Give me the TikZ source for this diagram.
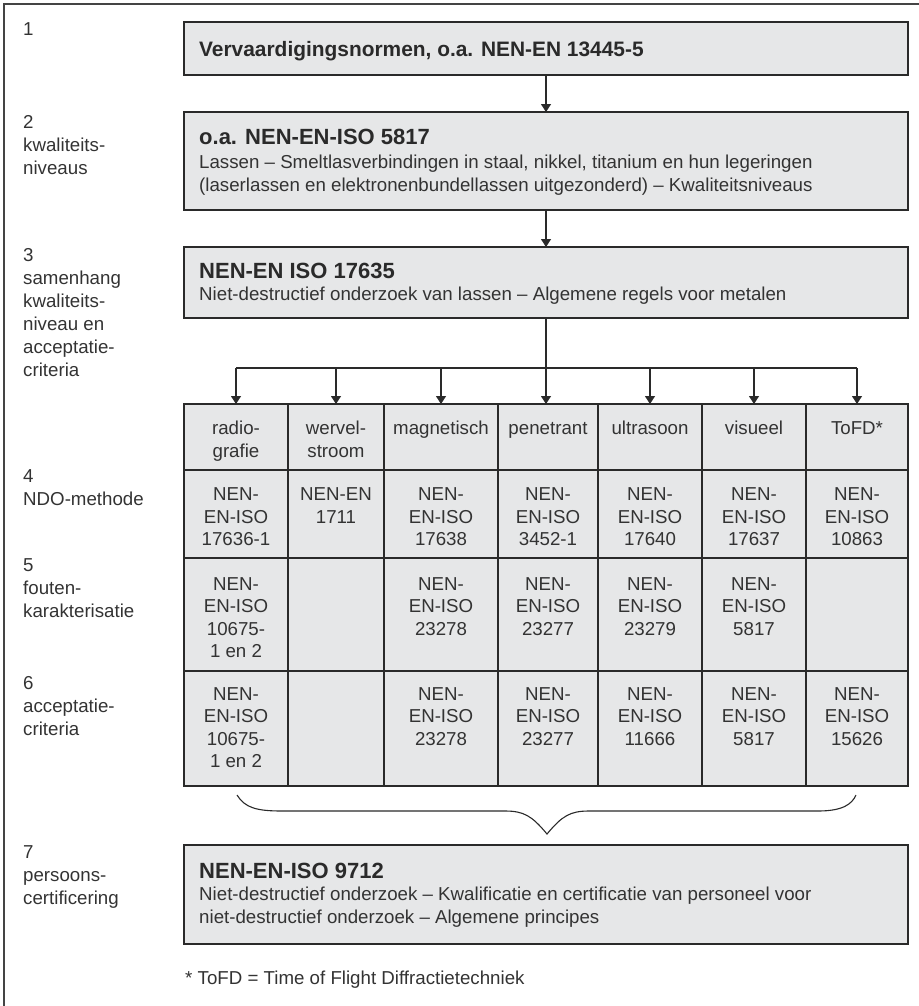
\documentclass[tikz,border=0pt]{standalone}
\usepackage{fontspec}
\setmainfont{Liberation Sans}
\usetikzlibrary{arrows.meta}
\definecolor{boxfill}{HTML}{E6E7E8}
\definecolor{ink}{HTML}{2A2A2A}
\definecolor{txt}{HTML}{333333}
\definecolor{framec}{HTML}{444444}
\newcommand{\bodyfont}{\fontsize{18.7bp}{22.5bp}\selectfont}
\newcommand{\labfont}{\fontsize{18.7bp}{23bp}\selectfont}
\newcommand{\titlefont}{\fontsize{22bp}{25bp}\selectfont\bfseries}
\newcommand{\titlefontA}{\fontsize{20.9bp}{25bp}\selectfont\bfseries}
\begin{document}
\begin{tikzpicture}[x=1bp,y=-1bp,
  box/.style={draw=ink, fill=boxfill, line width=1.5bp, inner sep=0pt, outer sep=0pt, minimum width=724bp},
  cell/.style={draw=ink, fill=boxfill, line width=1.3bp, inner sep=0pt, outer sep=0pt},
  title/.style={anchor=base west, inner sep=0pt, font=\titlefont, text=ink},
  body/.style={anchor=north west, align=left, inner sep=0pt, font=\bodyfont, text=txt},
  lab/.style={anchor=north west, align=left, inner sep=0pt, font=\labfont, text=txt},
  celltxt/.style={anchor=north, align=center, inner sep=0pt, font=\bodyfont, text=txt},
  conn/.style={draw=ink, line width=1.2bp, -{Triangle[length=8bp,width=10bp]}},
  line/.style={draw=ink, line width=1.2bp},
  frameline/.style={draw=framec, line width=1.5bp}
]
\useasboundingbox (0,0) rectangle (919,1006);

% frame (top and left only)
\draw[frameline] (4,1006) -- (4,4) -- (919,4);

% left labels
\node[lab] (l1) at (23,{35.7-16.1}) {\strut 1};
\node[lab] (l2) at (23,{128.3-16.1}) {\strut 2\\kwaliteits-\\niveaus};
\node[lab] (l3) at (23,{261.7-16.1}) {\strut 3\\samenhang\\kwaliteits-\\niveau en\\acceptatie-\\criteria};
\node[lab] (l4) at (23,{482.7-16.1}) {\strut 4\\NDO-methode};
\node[lab] (l5) at (23,{571.7-16.1}) {\strut 5\\fouten-\\karakterisatie};
\node[lab] (l6) at (23,{689.3-16.1}) {\strut 6\\acceptatie-\\criteria};
\node[lab] (l7) at (23,{858.3-16.1}) {\strut 7\\persoons-\\certificering};

% main boxes
\node[box, minimum height=53bp] (b1) at (546,48.5) {};
\node[title, font=\titlefontA] (t1) at (199,56) {Vervaardigingsnormen, o.a. NEN-EN 13445-5};

\node[box, minimum height=98bp] (b2) at (546,161) {};
\node[title] (t2) at (199,144) {o.a. NEN-EN-ISO 5817};
\node[body] (s2) at (199,{168.3-15.75}) {\strut Lassen – Smeltlasverbindingen in staal, nikkel, titanium en hun legeringen\\(laserlassen en elektronenbundellassen uitgezonderd) – Kwaliteitsniveaus};

\node[box, minimum height=71bp] (b3) at (546,282.5) {};
\node[title] (t3) at (199,278.3) {NEN-EN ISO 17635};
\node[body] (s3) at (199,{300.5-15.75}) {\strut Niet-destructief onderzoek van lassen – Algemene regels voor metalen};

\node[box, minimum height=99bp] (b7) at (546,894.5) {};
\node[title] (t7) at (199,878.3) {NEN-EN-ISO 9712};
\node[body] (s7) at (199,{900.7-15.75}) {\strut Niet-destructief onderzoek – Kwalificatie en certificatie van personeel voor\\niet-destructief onderzoek – Algemene principes};

% table cells
\foreach \i/\l/\r in {1/184/288, 2/288/384, 3/384/498, 4/498/598, 5/598/702, 6/702/806, 7/806/908}{
  \foreach \j/\t/\b in {1/404/470, 2/470/558, 3/558/671, 4/671/786}{
    \node[cell, minimum width={(\r-\l)*1bp}, minimum height={(\b-\t)*1bp}] (c-\i-\j) at ({(\l+\r)/2},{(\t+\b)/2}) {};
  }
}

% table texts
\foreach \i/\txt in {1/{radio-\\grafie}, 2/{wervel-\\stroom}, 3/{magnetisch}, 4/{penetrant}, 5/{ultrasoon}, 6/{visueel}, 7/{ToFD*}}{
  \node[celltxt] (x-\i-1) at (c-\i-1.north |- 0,418.75) {\strut\txt};
}
\foreach \i/\txt in {1/{NEN-\\EN-ISO\\17636-1}, 2/{NEN-EN\\1711}, 3/{NEN-\\EN-ISO\\17638}, 4/{NEN-\\EN-ISO\\3452-1}, 5/{NEN-\\EN-ISO\\17640}, 6/{NEN-\\EN-ISO\\17637}, 7/{NEN-\\EN-ISO\\10863}}{
  \node[celltxt] (x-\i-2) at (c-\i-2.north |- 0,484.95) {\strut\txt};
}
\foreach \i/\txt in {1/{NEN-\\EN-ISO\\10675-\\1 en 2}, 3/{NEN-\\EN-ISO\\23278}, 4/{NEN-\\EN-ISO\\23277}, 5/{NEN-\\EN-ISO\\23279}, 6/{NEN-\\EN-ISO\\5817}}{
  \node[celltxt] (x-\i-3) at (c-\i-3.north |- 0,574.25) {\strut\txt};
}
\foreach \i/\txt in {1/{NEN-\\EN-ISO\\10675-\\1 en 2}, 3/{NEN-\\EN-ISO\\23278}, 4/{NEN-\\EN-ISO\\23277}, 5/{NEN-\\EN-ISO\\11666}, 6/{NEN-\\EN-ISO\\5817}, 7/{NEN-\\EN-ISO\\15626}}{
  \node[celltxt] (x-\i-4) at (c-\i-4.north |- 0,684.25) {\strut\txt};
}

% connectors
\draw[conn] (b1) -- (b2);
\draw[conn] (b2) -- (b3);
\draw[conn] (b3.south) -- (b3.south |- c-4-1.north);
\coordinate (busL) at (c-1-1.north |- 0,368);
\coordinate (busR) at (c-7-1.north |- 0,368);
\draw[line] (busL) -- (busR);
\foreach \i in {1,2,3,5,6,7}{
  \draw[conn] (c-\i-1.north |- busL) -- (c-\i-1.north);
}

% brace
\draw[line, line width=1.1bp] (237,795) .. controls (245,808) and (257,811) .. (282,811) -- (505,811)
  .. controls (524,811) and (532,816) .. (547,834)
  .. controls (562,816) and (570,811) .. (589,811) -- (818,811)
  .. controls (843,811) and (852,804) .. (856,795);

% footnote
\node[anchor=base west, inner sep=0pt, font=\bodyfont, text=txt] (fn) at (185,984) {* ToFD = Time of Flight Diffractietechniek};
\end{tikzpicture}
\end{document}
